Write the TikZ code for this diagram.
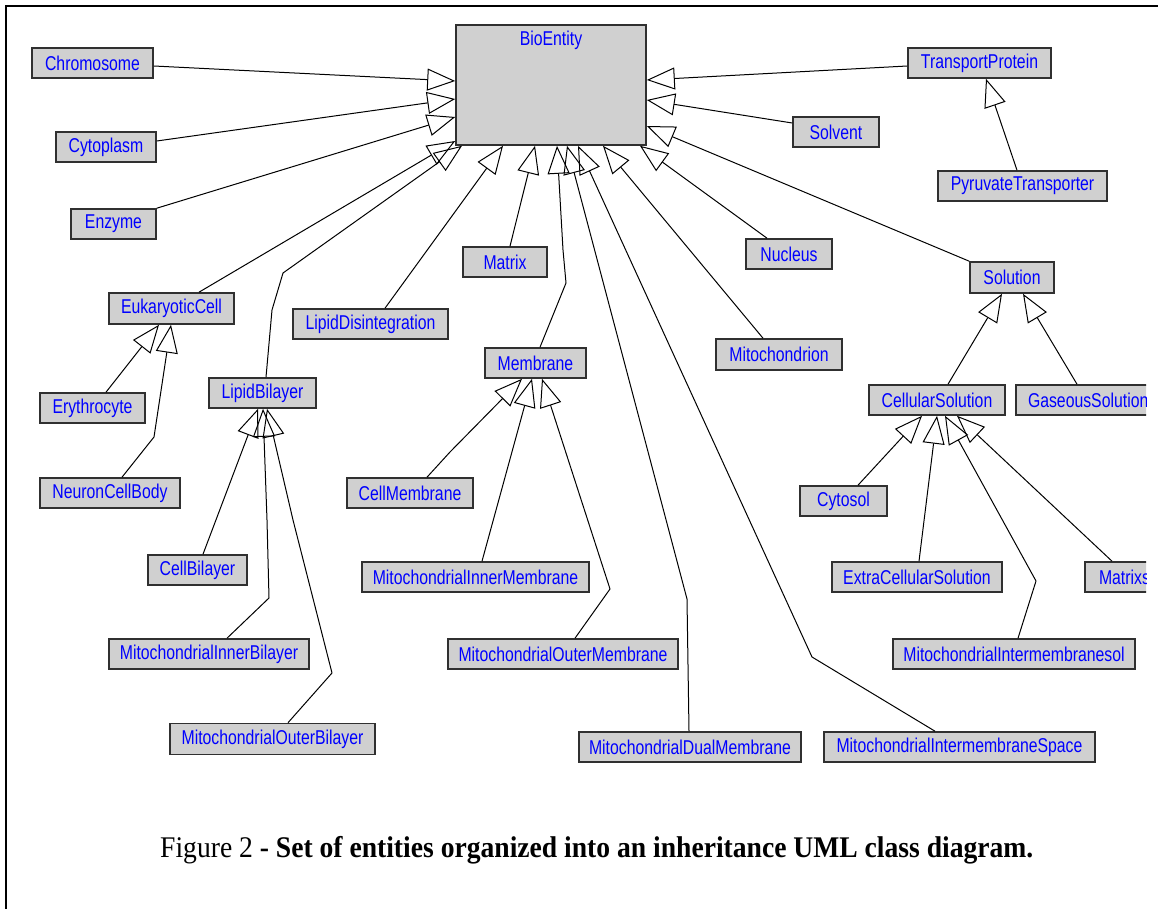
\documentclass[tikz,border=0pt]{standalone}
\usepackage{fontspec}
\newfontfamily\umlfont[FakeStretch=0.79]{Liberation Sans}
\newfontfamily\capfont[FakeStretch=0.92]{Liberation Serif}
\usetikzlibrary{arrows.meta,calc}
\definecolor{boxfill}{RGB}{208,208,208}
\definecolor{boxline}{RGB}{48,48,48}
\definecolor{umlblue}{RGB}{0,0,255}

\tikzset{
  clstext/.style={text=umlblue, font=\umlfont\fontsize{20}{23}\selectfont},
  cls/.style={clstext, draw=boxline, line width=1.6pt, fill=boxfill,
    minimum height=30pt, inner sep=0pt},
  gen/.style={line width=1pt, line join=round,
    -{Triangle[open,length=28pt,width=22pt]}},
}

\begin{document}
\begin{tikzpicture}[x=1pt,y=-1pt]
\useasboundingbox (0,0) rectangle (1158,909);
% page frame
\draw[line width=2pt] (5.7,909) -- (5.7,6.5) -- (1158,6.5);

\begin{scope}
\clip (7,8) rectangle (1146,800);

% classes
\node[cls, minimum width=190pt, minimum height=120pt,
  label={[clstext, anchor=north, yshift=-3pt]north:BioEntity}] (bio) at (551,85) {};
\node[cls, minimum width=121pt] (chrom) at (92.5,63) {Chromosome};
\node[cls, minimum width=100pt] (cyto) at (106,147) {Cytoplasm};
\node[cls, minimum width=85pt] (enz) at (113.5,224) {Enzyme};
\node[cls, minimum width=143pt] (tprot) at (979.5,63) {TransportProtein};
\node[cls, minimum width=86pt] (solv) at (836,132) {Solvent};
\node[cls, minimum width=169pt] (pyr) at (1022.5,186) {PyruvateTransporter};
\node[cls, minimum width=125pt, minimum height=31pt] (euk) at (171.5,308.5) {EukaryoticCell};
\node[cls, minimum width=155pt] (lipdis) at (370.5,324) {LipidDisintegration};
\node[cls, minimum width=107pt] (lipbi) at (262.5,393) {LipidBilayer};
\node[cls, minimum width=105pt] (ery) at (92.5,408) {Erythrocyte};
\node[cls, minimum width=140pt] (neuron) at (110,493) {NeuronCellBody};
\node[cls, minimum width=126pt] (cellmem) at (410,493) {CellMembrane};
\node[cls, minimum width=84pt] (matrix) at (505,262) {Matrix};
\node[cls, minimum width=86pt] (nucleus) at (789,254) {Nucleus};
\node[cls, minimum width=101pt] (membrane) at (535.5,363) {Membrane};
\node[cls, minimum width=126pt, minimum height=31pt] (mito) at (779,354.5) {Mitochondrion};
\node[cls, minimum width=84pt, minimum height=31pt] (solution) at (1012,277.5) {Solution};
\node[cls, minimum width=136pt] (cellsol) at (937,400) {CellularSolution};
\node[cls, minimum width=139pt, text width=115pt, align=left] (gassol) at (1085.5,400) {GaseousSolution};
\node[cls, minimum width=87pt] (cytosol) at (843.5,501) {Cytosol};
\node[cls, minimum width=99pt] (cellbi) at (197.5,570) {CellBilayer};
\node[cls, minimum width=200pt] (mib) at (209,654) {MitochondrialInnerBilayer};
\node[cls, minimum width=205pt, minimum height=31pt] (mob) at (272.5,739) {MitochondrialOuterBilayer};
\node[cls, minimum width=227pt] (mim) at (475.5,577) {MitochondrialInnerMembrane};
\node[cls, minimum width=230pt] (mom) at (563,654) {MitochondrialOuterMembrane};
\node[cls, minimum width=222pt] (mdm) at (690,747) {MitochondrialDualMembrane};
\node[cls, minimum width=170pt] (ecs) at (917,577) {ExtraCellularSolution};
\node[cls, minimum width=100pt, text width=72pt, align=left] (matrixs) at (1135,577) {Matrixs};
\node[cls, minimum width=242pt] (mis) at (1014,654) {MitochondrialIntermembranesol};
\node[cls, minimum width=271pt] (mispace) at (959.5,747) {MitochondrialIntermembraneSpace};

% generalisations into BioEntity
\draw[gen] (chrom.east |- 0,66) -- (bio.west |- 0,81);
\draw[gen] (cyto.east |- 0,141) -- (bio.west |- 0,99);
\draw[gen] (enz.north east) -- (bio.west |- 0,117);
\draw[gen] (199,0 |- euk.north) -- (bio.west |- 0,141);
\draw[gen] (266,0 |- lipbi.north) -- (272,310) -- (283,273) -- (462,0 |- bio.south);
\draw[gen] (385,0 |- lipdis.north) -- (503,0 |- bio.south);
\draw[gen] (510,0 |- matrix.north) -- (535,0 |- bio.south);
\draw[gen] (540,0 |- membrane.north) -- (566,283) -- (563,250) -- (557,0 |- bio.south);
\draw[gen] (689,0 |- mdm.north) -- (687,599) -- (567,0 |- bio.south);
\draw[gen] (935,0 |- mispace.north) -- (812,657) -- (578,0 |- bio.south);
\draw[gen] (763,0 |- mito.north) -- (603,0 |- bio.south);
\draw[gen] (767,0 |- nucleus.north) -- (640,0 |- bio.south);
\draw[gen] (tprot.west |- 0,66) -- (bio.east |- 0,80);
\draw[gen] (solv.west |- 0,123) -- (bio.east |- 0,100);
\draw[gen] (solution.north west) -- (bio.east |- 0,126);

% TransportProtein
\draw[gen] (1017,0 |- pyr.north) -- (986,0 |- tprot.south);

% EukaryoticCell
\draw[gen] (106,0 |- ery.north) -- (159,0 |- euk.south);
\draw[gen] (122,0 |- neuron.north) -- (154,437) -- (171,0 |- euk.south);

% LipidBilayer
\draw[gen] (203,0 |- cellbi.north) -- (258,0 |- lipbi.south);
\draw[gen] (227,0 |- mib.north) -- (269,598) -- (267,520) -- (263,0 |- lipbi.south);
\draw[gen] (288,0 |- mob.north) -- (332,673) -- (293,520) -- (267,0 |- lipbi.south);

% Membrane
\draw[gen] (427,0 |- cellmem.north) -- (450,452) -- (522,0 |- membrane.south);
\draw[gen] (482,0 |- mim.north) -- (532,0 |- membrane.south);
\draw[gen] (575,0 |- mom.north) -- (610,589) -- (542,0 |- membrane.south);

% Solution
\draw[gen] (948,0 |- cellsol.north) -- (1002,0 |- solution.south);
\draw[gen] (1077,0 |- gassol.north) -- (1023,0 |- solution.south);

% CellularSolution
\draw[gen] (858,0 |- cytosol.north) -- (922,0 |- cellsol.south);
\draw[gen] (919,0 |- ecs.north) -- (937,0 |- cellsol.south);
\draw[gen] (1018,0 |- mis.north) -- (1036,581) -- (945,0 |- cellsol.south);
\draw[gen] (1112,0 |- matrixs.north) -- (957,0 |- cellsol.south);
\end{scope}

% caption
\node[anchor=base west, inner sep=0pt] (caption) at (160,857)
  {\capfont\fontsize{30}{36}\selectfont Figure 2 \textbf{- Set of entities organized into an inheritance UML class diagram.}};
\end{tikzpicture}
\end{document}
